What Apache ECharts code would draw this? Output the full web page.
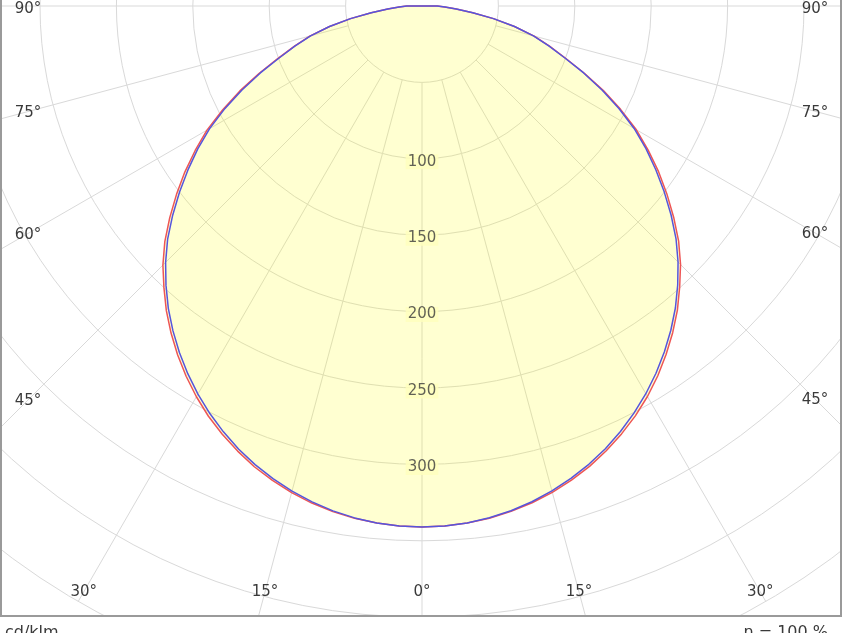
<!DOCTYPE html>
<html>
<head>
<meta charset="utf-8">
<script src="https://cdn.jsdelivr.net/npm/echarts@6/dist/echarts.min.js"></script>
<style>
html,body{margin:0;padding:0;background:#fff;}
#chart{width:844px;height:633px;}
</style>
</head>
<body>
<div id="chart"></div>
<script>
// ---- data (cd/klm, gamma angles in degrees) ----
const gammas = [0,2.5,5,7.5,10,12.5,15,17.5,20,22.5,25,27.5,30,32.5,35,37.5,40,42.5,45,47.5,50,52.5,55,57.5,60,62.5,65,67.5,70,72.5,75,77.5,80,82.5,85,87.5,90];
const c0   = [341,340.7,339.7,338.2,336.0,333.2,329.7,325.5,320.9,315.3,309.3,302.7,295.3,287.3,278.8,269.8,260.3,250.0,239.8,228.3,215.5,202.5,189.5,176.0,162.5,147.0,131.5,115.5,100.5,87.5,76.0,62.0,47.5,33.5,22.5,15.0,10.0];
const c180 = [341,340.7,339.7,338.1,335.8,333.0,329.5,325.3,320.6,315.1,309.0,302.4,295.1,287.1,278.5,269.5,260.0,249.6,239.3,227.8,215.0,202.0,189.0,175.5,162.0,146.5,131.0,115.0,100.0,87.5,76.0,62.0,47.5,33.5,22.5,15.0,10.0];
const c90  = [341,340.7,339.6,337.9,335.5,332.4,328.7,324.3,319.4,313.8,307.5,300.7,293.3,285.3,276.8,267.8,258.3,248.0,237.3,225.8,213.0,200.0,187.0,174.0,160.5,145.5,130.0,114.5,99.5,87.0,75.5,62.0,47.5,33.5,22.5,15.0,10.0];
const c270 = [341,340.7,339.6,337.8,335.4,332.3,328.5,324.1,319.2,313.6,307.3,300.4,293.0,285.0,276.5,267.5,258.0,247.7,237.0,225.5,212.8,199.8,186.8,173.8,160.3,145.3,130.0,114.5,99.5,87.0,75.5,62.0,47.5,33.5,22.5,15.0,10.0];
const radiusTicks = [100,150,200,250,300];
const angleTicks = [0,15,30,45,60,75,90];
const angleLabels = ['0°','15°','30°','45°','60°','75°','90°'];
const unitLabel = 'cd/klm';
const effLabel = 'η = 100 %';

// ---- layout ----
const CX = 422, CY = 6, PX = 1.528, RMAX = 450;
const FONT = 'DejaVu Sans';
const TXT = '#3a3a3a';

function planeData(left, right){
  const d = [[0,0]];
  for (let i = gammas.length-1; i >= 0; i--) d.push([left[i], gammas[i]]);
  for (let i = 1; i < gammas.length; i++) d.push([right[i], 360 - gammas[i]]);
  d.push([0,0]);
  return d;
}

const chart = echarts.init(document.getElementById('chart'), null, {renderer:'canvas'});

const graphics = [];
graphics.push({type:'rect', shape:{x:0,y:617,width:844,height:20}, style:{fill:'#fff'}, z:100});
graphics.push({type:'rect', shape:{x:842,y:0,width:10,height:640}, style:{fill:'#fff'}, z:100});
graphics.push({type:'rect', shape:{x:1,y:-10,width:840,height:626}, style:{fill:'none', stroke:'#9a9a9a', lineWidth:2}, z:101});
const LX = 28, RX = 815, BY = 592;
angleTicks.forEach((g, k) => {
  const sides = g === 0 ? [0] : [-1, 1];
  sides.forEach(s => {
    const t = Math.tan(g*Math.PI/180);
    const dxMax = s < 0 ? CX - LX : RX - CX;
    const dy = BY - CY;
    let x, y;
    if (g < 90 && dy*t <= dxMax) { x = CX + s*dy*t; y = BY; }
    else { x = CX + s*dxMax; y = Math.max(CY + 1.5 + (g < 90 ? dxMax/t : 0), 9); }
    graphics.push({type:'text', x:x, y:y, z:102,
      style:{text:angleLabels[k], fill:TXT, font:'15px "'+FONT+'"', textAlign:'center', textVerticalAlign:'middle'}});
  });
});
graphics.push({type:'text', x:5, y:625, z:102, style:{text:unitLabel, fill:TXT, font:'16px "'+FONT+'"', textAlign:'left', textVerticalAlign:'top'}});
graphics.push({type:'text', x:828, y:625, z:102, style:{text:effLabel, fill:TXT, font:'16px "'+FONT+'"', textAlign:'right', textVerticalAlign:'top'}});

const baseAngle = {type:'value', min:0, max:360, interval:15, startAngle:270, clockwise:true,
  axisLine:{show:false}, axisTick:{show:false}, axisLabel:{show:false}};

chart.setOption({
  animation:false,
  backgroundColor:'#fff',
  polar:[
    {center:[CX,CY], radius: RMAX*PX},
    {center:[CX,CY], radius:[50*PX, RMAX*PX]}
  ],
  angleAxis:[
    Object.assign({polarIndex:0, splitLine:{show:false}}, baseAngle),
    Object.assign({polarIndex:1, splitLine:{show:true, lineStyle:{color:'#d9d9d9', width:1}}}, baseAngle)
  ],
  radiusAxis:[
    {polarIndex:0, type:'value', min:0, max:RMAX, interval:50, axisLine:{show:false}, axisTick:{show:false}, axisLabel:{show:false},
      splitLine:{show:true, lineStyle:{color:'#d9d9d9', width:1}}},
    {polarIndex:1, type:'value', min:0, max:RMAX, show:false, splitLine:{show:false}}
  ],
  series:[
    {type:'line', coordinateSystem:'polar', polarIndex:0, data:planeData(c0, c180), symbol:'none', smooth:false,
      lineStyle:{color:'#ee5555', width:1.5}, areaStyle:{color:'rgba(255,255,0,0.26)'}, z:2},
    {type:'line', coordinateSystem:'polar', polarIndex:0, data:planeData(c90, c270), symbol:'none', smooth:false,
      lineStyle:{color:'#5555dd', width:1.5}, z:3},
    {type:'scatter', coordinateSystem:'polar', polarIndex:0, data:radiusTicks.map(r => [r, 0]), symbolSize:0.1,
      itemStyle:{color:'rgba(0,0,0,0)'}, z:4,
      label:{show:true, position:'inside', offset:[0,3], formatter:p => String(p.value[0]), color:TXT,
        fontFamily:FONT, fontSize:15, backgroundColor:'#ffffbd', padding:[0,2]}}
  ],
  graphic: graphics
});
</script>
</body>
</html>
